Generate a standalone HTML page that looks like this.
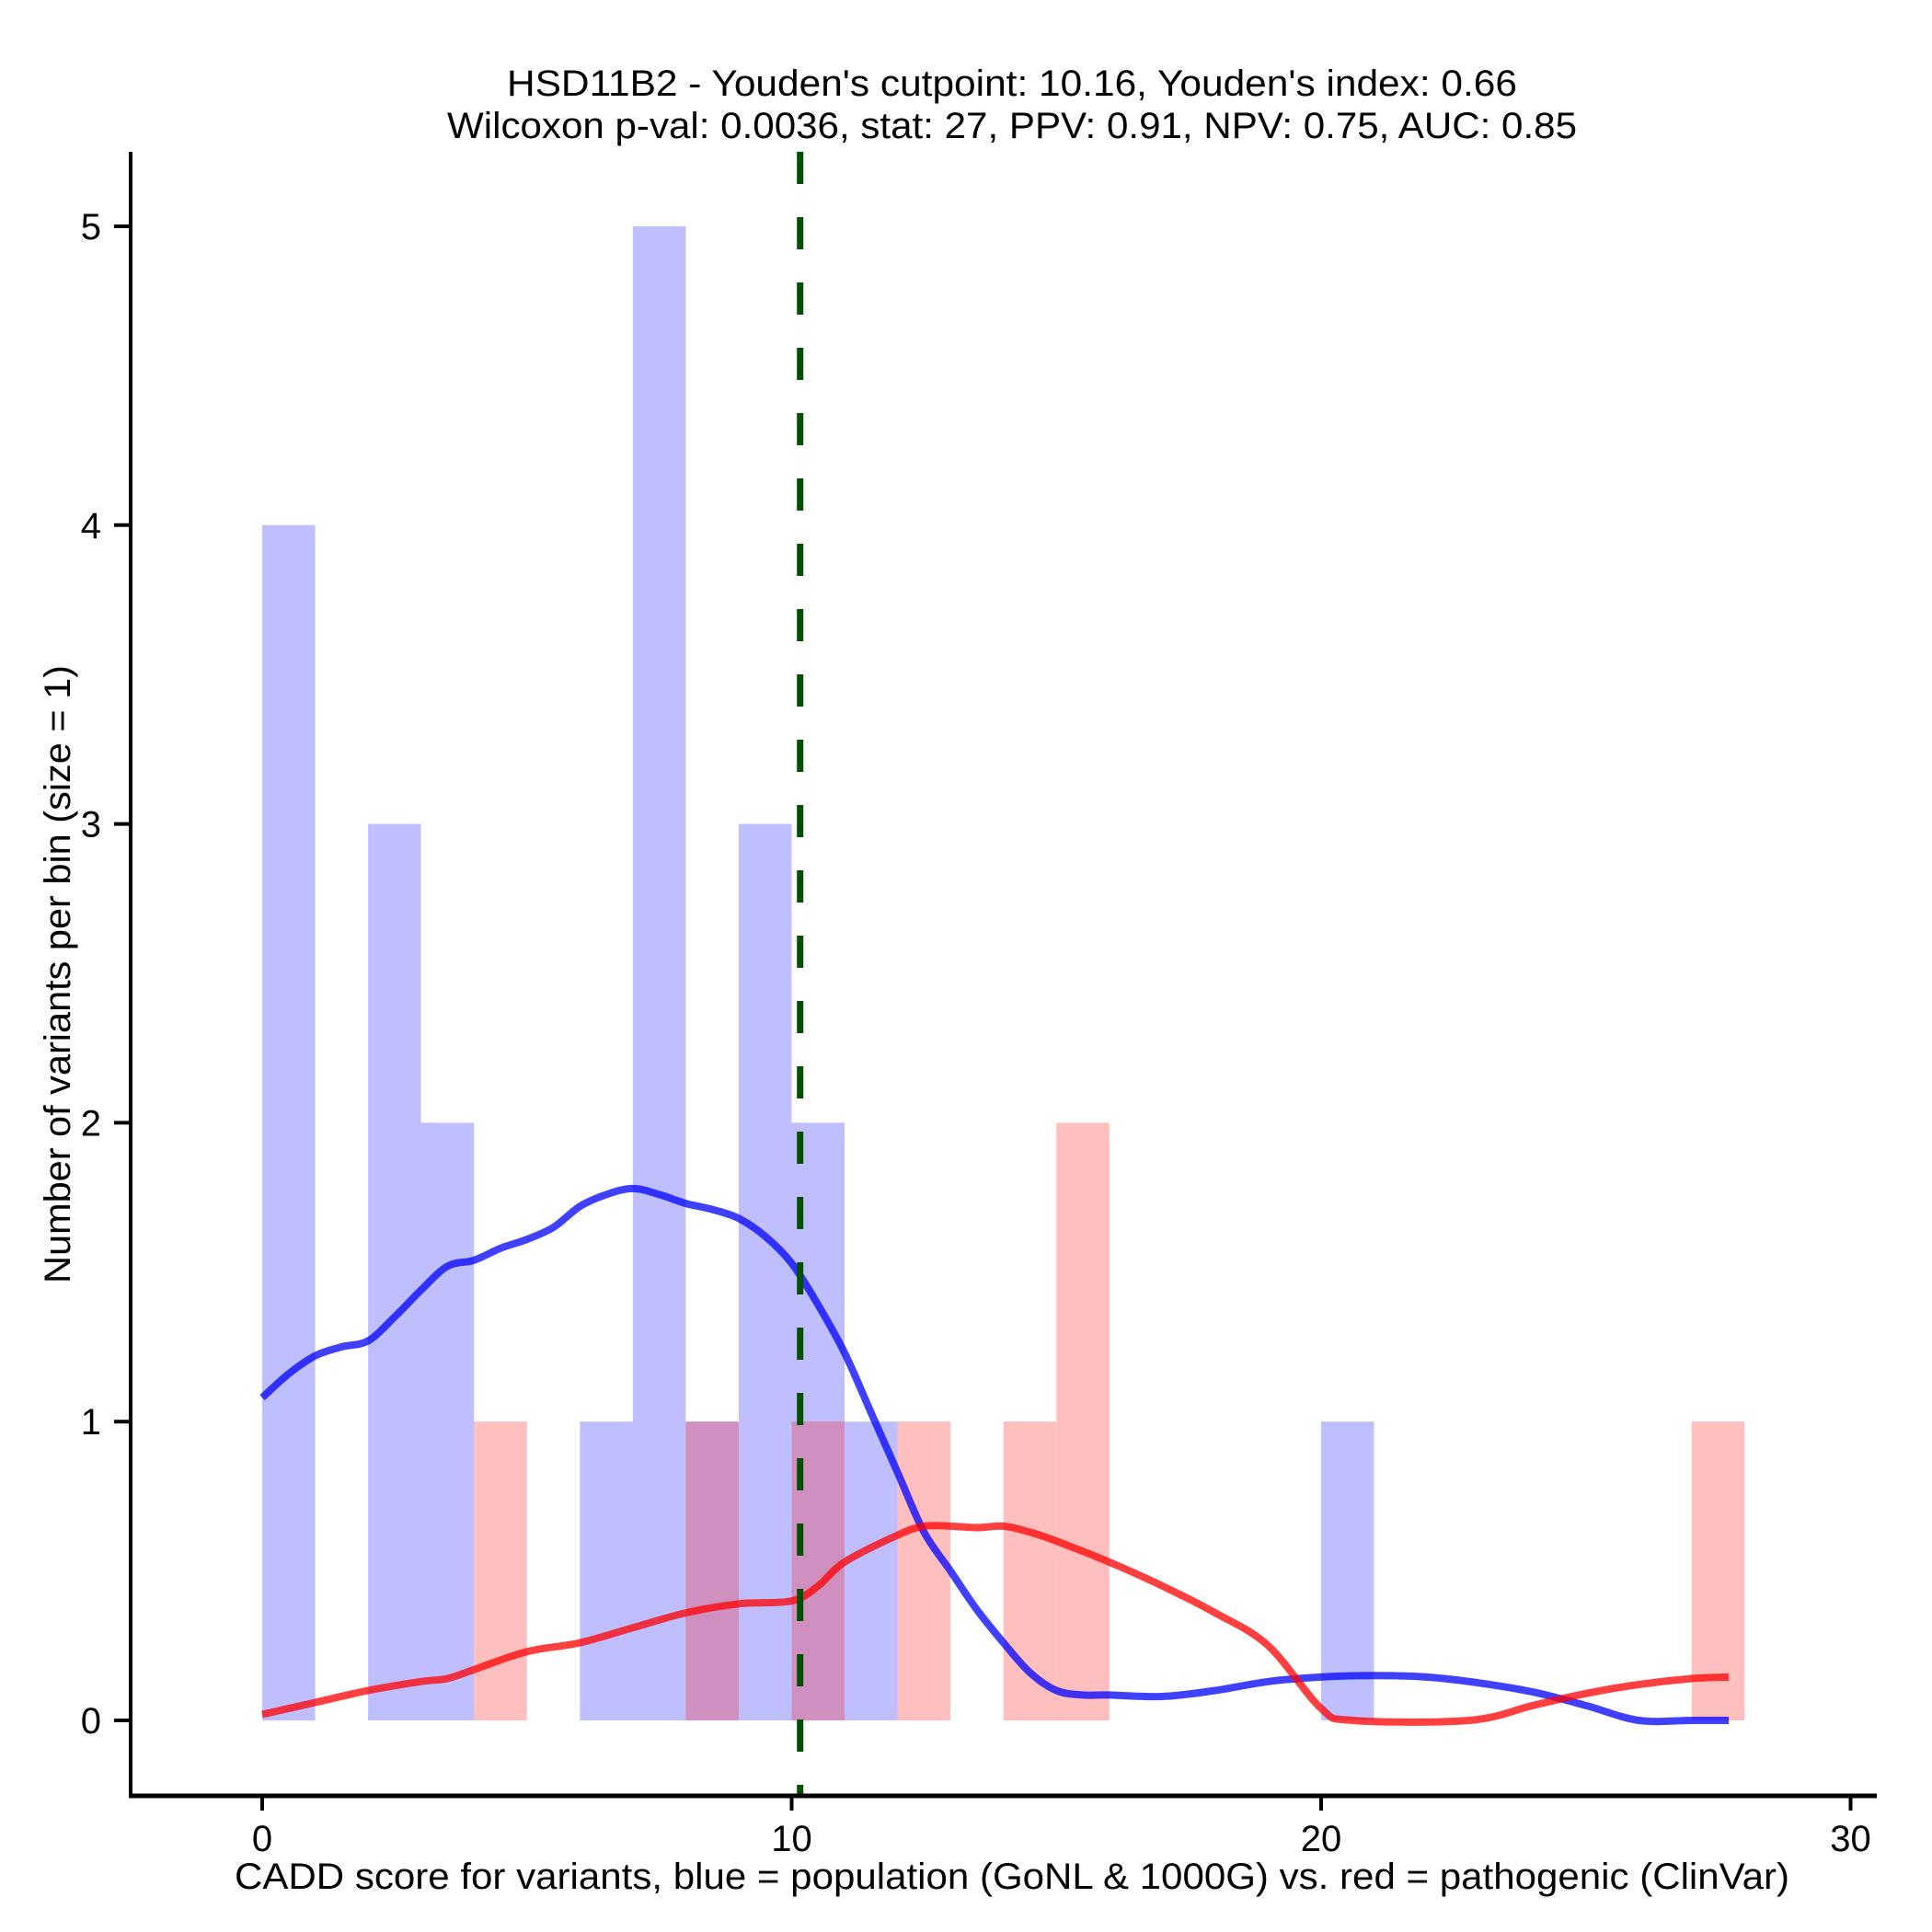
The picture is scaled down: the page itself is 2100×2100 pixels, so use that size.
<!DOCTYPE html>
<html><head><meta charset="utf-8"><style>
html,body{margin:0;padding:0;background:#fff;}
svg{display:block;font-family:"Liberation Sans",Arial,sans-serif;}
</style></head><body>
<svg id="chart" width="2100" height="2100" viewBox="0 0 2100 2100" xmlns="http://www.w3.org/2000/svg">
<rect width="2100" height="2100" fill="#fff"/>
<text x="1100" y="104" font-size="40" text-anchor="middle" textLength="1098" lengthAdjust="spacingAndGlyphs">HSD11B2 - Youden's cutpoint: 10.16, Youden's index: 0.66</text>
<text x="1100" y="150" font-size="40" text-anchor="middle" textLength="1228" lengthAdjust="spacingAndGlyphs">Wilcoxon p-val: 0.0036, stat: 27, PPV: 0.91, NPV: 0.75, AUC: 0.85</text>
<g id="bars-blue"></g>
<g id="bars-red"></g>
<g id="curves"></g>
<g id="cut"></g>
<g id="axes"></g>
<text x="1100" y="2053" font-size="40" text-anchor="middle" textLength="1690" lengthAdjust="spacingAndGlyphs">CADD score for variants, blue = population (GoNL &amp; 1000G) vs. red = pathogenic (ClinVar)</text>
<text transform="translate(76,1059) rotate(-90)" font-size="40" text-anchor="middle" textLength="672" lengthAdjust="spacingAndGlyphs">Number of variants per bin (size = 1)</text>
</svg>
<script>
const blueBinStarts=[0,2,3,6,7,8,9,10,11,20];
const blueCounts=[4,3,2,1,5,1,3,2,1,1];
const redBinStarts=[4,8,10,12,14,15,27];
const redCounts=[1,1,1,1,1,2,1];
const blueDensX=[0,0.5,1,1.5,2,2.5,3,3.5,4,4.5,5,5.5,6,6.5,7,7.5,8,8.5,9,9.5,10,10.5,11,11.5,12,12.5,13,13.5,14,14.5,15,15.5,16,17,18,19,20,21,22,23,24,25,26,27,27.7];
const blueDensY=[1.08,1.16,1.22,1.25,1.27,1.35,1.44,1.52,1.54,1.58,1.61,1.65,1.72,1.76,1.78,1.76,1.73,1.71,1.68,1.62,1.53,1.39,1.23,1.03,0.83,0.63,0.5,0.37,0.26,0.16,0.1,0.085,0.085,0.08,0.1,0.13,0.145,0.15,0.145,0.125,0.095,0.05,0,0,0];
const redDensX=[0,1,2,3,3.5,4,5,6,7,8,9,10,10.5,11,12,12.5,13,13.5,14,14.5,15,16,17,18,19,20,20.6,22.8,24,25,26,27,27.7];
const redDensY=[0.02,0.06,0.1,0.13,0.14,0.17,0.23,0.26,0.31,0.36,0.39,0.4,0.45,0.53,0.62,0.65,0.65,0.645,0.65,0.63,0.6,0.53,0.45,0.36,0.25,0.04,0,0,0.05,0.09,0.12,0.14,0.145];
const cutpoint=10.16;
const xTicks=[0,10,20,30];
const yTicks=[0,1,2,3,4,5];

const NS="http://www.w3.org/2000/svg";
const X=v=>285+v*57.55;
const Y=v=>1870-v*324.8;
function mk(tag,attrs,parent){const e=document.createElementNS(NS,tag);for(const k in attrs)e.setAttribute(k,attrs[k]);parent.appendChild(e);return e;}
const gb=document.getElementById('bars-blue'),gr=document.getElementById('bars-red'),gc=document.getElementById('curves'),gx=document.getElementById('axes'),gcut=document.getElementById('cut');
blueBinStarts.forEach((s,i)=>{
  const r=mk('rect',{x:X(s),y:Y(blueCounts[i]),width:X(s+1)-X(s),height:Y(0)-Y(blueCounts[i]),fill:'rgba(0,0,255,0.25)'},gb);
  
  
});
redBinStarts.forEach((s,i)=>{
  const r=mk('rect',{x:X(s),y:Y(redCounts[i]),width:X(s+1)-X(s),height:Y(0)-Y(redCounts[i]),fill:'rgba(255,0,0,0.25)'},gr);
  
  
});
function curve(xs,ys,color,name){
  const P=xs.map((x,i)=>[X(x),Y(ys[i])]);
  let d='M'+P[0][0].toFixed(1)+' '+P[0][1].toFixed(1);
  for(let i=0;i<P.length-1;i++){
    const p0=P[Math.max(0,i-1)],p1=P[i],p2=P[i+1],p3=P[Math.min(P.length-1,i+2)];
    const c1=[p1[0]+(p2[0]-p0[0])/6,p1[1]+(p2[1]-p0[1])/6];
    const c2=[p2[0]-(p3[0]-p1[0])/6,p2[1]-(p3[1]-p1[1])/6];
    d+=' C'+c1[0].toFixed(1)+' '+c1[1].toFixed(1)+' '+c2[0].toFixed(1)+' '+c2[1].toFixed(1)+' '+p2[0].toFixed(1)+' '+p2[1].toFixed(1);
  }
  const p=mk('path',{d:d,fill:'none',stroke:color,'stroke-width':8,'stroke-linejoin':'round'},gc);
  
  
}
curve(blueDensX,blueDensY,'rgba(0,0,255,0.75)','population-density-curve');
curve(redDensX,redDensY,'rgba(255,0,0,0.75)','pathogenic-density-curve');
const cl=mk('line',{x1:X(cutpoint),x2:X(cutpoint),y1:165,y2:1952,stroke:'#005000','stroke-width':7,'stroke-dasharray':'35 36'},gcut);


const ya=mk('line',{x1:142,x2:142,y1:165,y2:1954,stroke:'#000','stroke-width':4},gx);


const xa=mk('line',{x1:140,x2:2040,y1:1952,y2:1952,stroke:'#000','stroke-width':5},gx);


xTicks.forEach(t=>{
  const l=mk('line',{x1:X(t),x2:X(t),y1:1952,y2:1968,stroke:'#000','stroke-width':4},gx);
  
  
  const tx=mk('text',{x:X(t),y:2012,'font-size':40,'text-anchor':'middle'},gx);
  tx.textContent=t;
  
  
});
yTicks.forEach(t=>{
  const l=mk('line',{x1:124,x2:142,y1:Y(t),y2:Y(t),stroke:'#000','stroke-width':4},gx);
  
  
  const tx=mk('text',{x:110,y:Y(t)+14,'font-size':40,'text-anchor':'end'},gx);
  tx.textContent=t;
  
  
});
</script>
</body></html>
